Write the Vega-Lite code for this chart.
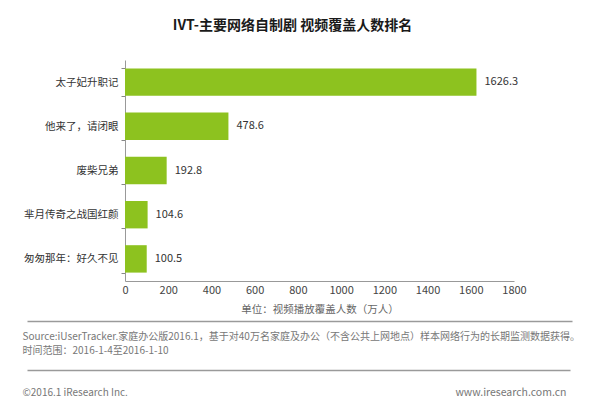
{
  "$schema": "https://vega.github.io/schema/vega-lite/v6.json",
  "width": 389,
  "height": 221,
  "autosize": {"type": "none"},
  "padding": {"left": 125, "top": 60, "right": 86, "bottom": 126},
  "background": "white",
  "title": {
    "text": "IVT-主要网络自制剧 视频覆盖人数排名",
    "font": "Noto Sans CJK SC",
    "fontSize": 14,
    "fontWeight": "bold",
    "color": "#1a1a1a",
    "anchor": "middle",
    "dx": -27,
    "offset": 22
  },
  "config": {
    "view": {"stroke": null},
    "font": "Noto Sans CJK SC"
  },
  "data": {
    "values": [
      {"name": "太子妃升职记", "value": 1626.3},
      {"name": "他来了，请闭眼", "value": 478.6},
      {"name": "废柴兄弟", "value": 192.8},
      {"name": "芈月传奇之战国红颜", "value": 104.6},
      {"name": "匆匆那年：好久不见", "value": 100.5}
    ]
  },
  "layer": [
    {
      "layer": [
        {
          "mark": {"type": "bar", "color": "#8DC21F"},
          "encoding": {
            "y": {
              "field": "name",
              "type": "nominal",
              "sort": null,
              "scale": {"paddingInner": 0.38, "paddingOuter": 0.19},
              "axis": {
                "title": null,
                "tickBand": "extent",
                "tickSize": 4,
                "tickColor": "#888888",
                "domainColor": "#999999",
                "labelFontSize": 10.5,
                "labelColor": "#333333",
                "labelPadding": 3
              }
            },
            "x": {
              "field": "value",
              "type": "quantitative",
              "scale": {"domain": [0, 1800], "nice": false},
              "axis": {
                "values": [0, 200, 400, 600, 800, 1000, 1200, 1400, 1600, 1800],
                "format": "d",
                "labelFlush": false,
                "grid": false,
                "ticks": false,
                "domainColor": "#999999",
                "labelFontSize": 11,
                "labelColor": "#444444",
                "labelPadding": 3,
                "title": "单位：视频播放覆盖人数（万人）",
                "titleFontSize": 10.5,
                "titleFontWeight": "normal",
                "titleColor": "#666666",
                "titlePadding": 9
              }
            }
          }
        },
        {
          "mark": {"type": "text", "align": "left", "baseline": "middle", "dx": 8, "fontSize": 11, "color": "#333333"},
          "encoding": {
            "y": {"field": "name", "type": "nominal", "sort": null},
            "x": {"field": "value", "type": "quantitative"},
            "text": {"field": "value", "type": "quantitative", "format": ".1f"}
          }
        }
      ]
    },
    {
      "mark": {"type": "rule", "opacity": 0},
      "encoding": {
        "x": {
          "field": "value",
          "type": "quantitative",
          "scale": {"range": [-98, 447]},
          "axis": {
            "orient": "bottom",
            "offset": 40,
            "domainColor": "#9a9a9a",
            "domainWidth": 1.5,
            "ticks": false,
            "labels": false,
            "grid": false,
            "title": ["Source:iUserTracker.家庭办公版2016.1，基于对40万名家庭及办公（不含公共上网地点）样本网络行为的长期监测数据获得。", "时间范围：2016-1-4至2016-1-10"],
            "titleAnchor": "start",
            "titleAlign": "left",
            "titleBaseline": "alphabetic",
            "titleX": -103,
            "titleY": 18,
            "titleLineHeight": 14,
            "titleFontSize": 10,
            "titleFontWeight": "normal",
            "titleColor": "#777777"
          }
        }
      }
    },
    {
      "mark": {"type": "rule", "opacity": 0},
      "encoding": {
        "x": {
          "field": "value",
          "type": "quantitative",
          "scale": {"range": [-98, 445]},
          "axis": {
            "orient": "bottom",
            "offset": 89,
            "domainColor": "#9a9a9a",
            "domainWidth": 1.5,
            "ticks": false,
            "labels": false,
            "grid": false,
            "title": "©2016.1 iResearch Inc.",
            "titleAnchor": "start",
            "titleAlign": "left",
            "titleBaseline": "alphabetic",
            "titleX": -103,
            "titleY": 25,
            "titleFontSize": 10,
            "titleFontWeight": "normal",
            "titleColor": "#777777"
          }
        }
      }
    },
    {
      "mark": {"type": "rule", "opacity": 0},
      "encoding": {
        "x": {
          "field": "value",
          "type": "quantitative",
          "scale": {"range": [-98, 445]},
          "axis": {
            "orient": "bottom",
            "offset": 89,
            "domain": false,
            "ticks": false,
            "labels": false,
            "grid": false,
            "title": "www.iresearch.com.cn",
            "titleAnchor": "end",
            "titleAlign": "right",
            "titleBaseline": "alphabetic",
            "titleX": 441,
            "titleY": 25,
            "titleFontSize": 10.5,
            "titleFontWeight": "normal",
            "titleColor": "#777777"
          }
        }
      }
    }
  ],
  "resolve": {"scale": {"x": "independent"}, "axis": {"x": "independent"}}
}
